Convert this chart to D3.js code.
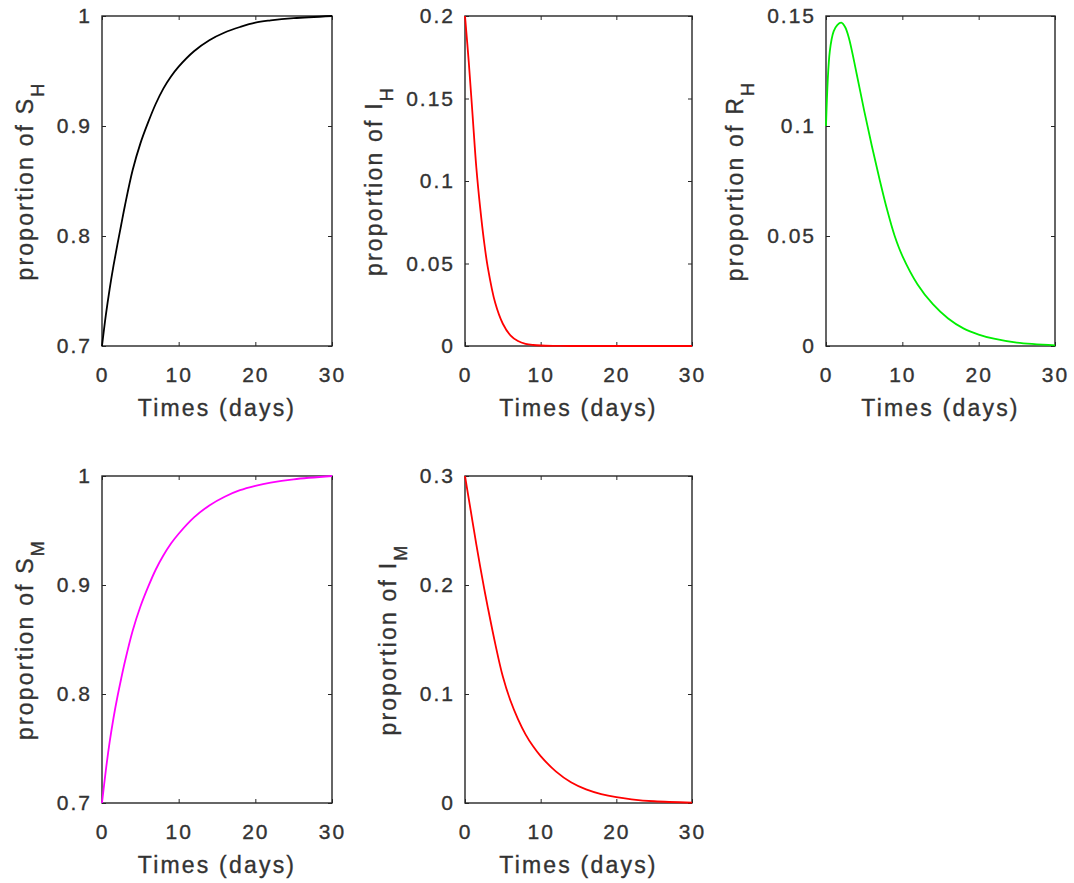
<!DOCTYPE html>
<html lang="en">
<head>
  <meta charset="UTF-8">
  <title>Host and mosquito proportions</title>
  <script src="https://d3js.org/d3.v7.min.js"></script>
  <style>
    body {
      margin: 0;
      background: #fff;
    }
    svg text {
      font-family: "Liberation Sans", Arial, sans-serif;
      fill: #333;
      stroke: #333;
      stroke-width: 0.35px;
    }
  </style>
</head>
<body>
<svg id="fig" width="1074" height="883"></svg>

<script>
// time grid (days) the curves were read at
const days = [0, 0.5, 1, 1.5, 2, 2.5, 3, 4, 5, 6, 7, 8, 9, 10, 12, 14, 16, 18, 20, 22, 25, 30];

// values
const sH = [0.700, 0.728, 0.752, 0.773, 0.792, 0.810, 0.828, 0.860, 0.884, 0.903, 0.920, 0.934,
            0.945, 0.954, 0.968, 0.978, 0.985, 0.990, 0.994, 0.996, 0.998, 1.000];
const iH = [0.200, 0.172, 0.140, 0.108, 0.084, 0.064, 0.048, 0.026, 0.0135, 0.0065, 0.003, 0.0013,
            0.0006, 0.0003, 0.0001, 0, 0, 0, 0, 0, 0, 0];
const rH = [0.100, 0.134, 0.143, 0.146, 0.147, 0.145, 0.140, 0.124, 0.107, 0.091, 0.076, 0.062,
            0.050, 0.041, 0.028, 0.019, 0.0125, 0.008, 0.0052, 0.0033, 0.0015, 0.0003];
const sM = [0.700, 0.730, 0.756, 0.778, 0.797, 0.814, 0.830, 0.858, 0.880, 0.898, 0.914, 0.927,
            0.938, 0.947, 0.962, 0.973, 0.981, 0.987, 0.991, 0.994, 0.997, 1.000];
const iM = [0.300, 0.279, 0.258, 0.237, 0.217, 0.198, 0.180, 0.146, 0.116, 0.094, 0.077, 0.063,
            0.052, 0.043, 0.029, 0.019, 0.0125, 0.0082, 0.0053, 0.0034, 0.0016, 0.0004];

// tick labels
const xTicks = [0, 10, 20, 30];
const sTicks = [0.7, 0.8, 0.9, 1];
const iHTicks = [0, 0.05, 0.1, 0.15, 0.2];
const rHTicks = [0, 0.05, 0.1, 0.15];
const iMTicks = [0, 0.1, 0.2, 0.3];
const xLabel = "Times (days)";

// subplot layout: [left, top, right, bottom]
const panels = [
  {values: sH, ticks: sTicks,  name: "S", sub: "H", color: "#000000", box: [102, 16, 332, 346]},
  {values: iH, ticks: iHTicks, name: "I", sub: "H", color: "#ff0000", box: [465, 16, 692, 346]},
  {values: rH, ticks: rHTicks, name: "R", sub: "H", color: "#00ee00", box: [826, 16, 1055, 346]},
  {values: sM, ticks: sTicks,  name: "S", sub: "M", color: "#ff00ff", box: [102, 476, 332, 803]},
  {values: iM, ticks: iMTicks, name: "I", sub: "M", color: "#ff0000", box: [465, 476, 692, 803]}
];

const tickFont = 21, labelFont = 23;
const svg = d3.select("#fig");

panels.forEach(p => {
  const [x0, y0, x1, y1] = p.box;
  const w = x1 - x0, h = y1 - y0;

  const x = d3.scaleLinear().domain([0, 30]).range([0, w]);
  const y = d3.scaleLinear().domain(d3.extent(p.ticks)).range([h, 0]);

  const g = svg.append("g").attr("transform", `translate(${x0},${y0})`);

  // bottom + left axes with labels, ticks pointing in
  g.append("g")
    .attr("transform", `translate(0,${h})`)
    .call(d3.axisBottom(x).tickValues(xTicks).tickSizeInner(-4).tickSizeOuter(0).tickPadding(21));
  const yAxis = g.append("g")
    .call(d3.axisLeft(y).tickValues(p.ticks).tickSizeInner(-4).tickSizeOuter(0).tickPadding(10)
      .tickFormat(d3.format("~g")));
  // top + right ticks only
  g.append("g")
    .call(d3.axisTop(x).tickValues(xTicks).tickSizeInner(-4).tickSizeOuter(0).tickFormat(""));
  g.append("g")
    .attr("transform", `translate(${w},0)`)
    .call(d3.axisRight(y).tickValues(p.ticks).tickSizeInner(-4).tickSizeOuter(0).tickFormat(""));

  g.selectAll(".domain").remove();
  g.selectAll(".tick line").attr("stroke", "#262626");
  g.selectAll(".tick text")
    .attr("font-size", tickFont)
    .attr("letter-spacing", 2)
    .attr("font-family", null);

  g.append("rect")
    .attr("width", w)
    .attr("height", h)
    .attr("fill", "none")
    .attr("stroke", "#262626")
    .attr("stroke-width", 1.4);

  // x label
  g.append("text")
    .attr("x", w / 2)
    .attr("y", h + 70)
    .attr("text-anchor", "middle")
    .attr("font-size", labelFont)
    .attr("letter-spacing", 2.2)
    .text(xLabel);

  // y label sits left of the widest tick label
  const maxW = d3.max(yAxis.selectAll("text").nodes(), n => n.getBBox().width);
  const lab = g.append("text")
    .attr("transform", `translate(${-10 - maxW - 24},${h / 2}) rotate(-90)`)
    .attr("text-anchor", "middle")
    .attr("font-size", labelFont)
    .attr("letter-spacing", 2.2)
    .text("proportion of " + p.name);
  lab.append("tspan")
    .attr("dy", 11)
    .attr("font-size", 18)
    .text(p.sub);

  // the curve
  const line = d3.line()
    .x((d, i) => x(days[i]))
    .y(d => y(d))
    .curve(d3.curveCatmullRom.alpha(0.5));

  g.append("path")
    .datum(p.values)
    .attr("fill", "none")
    .attr("stroke", p.color)
    .attr("stroke-width", 1.8)
    .attr("d", line);
});
</script>
</body>
</html>
